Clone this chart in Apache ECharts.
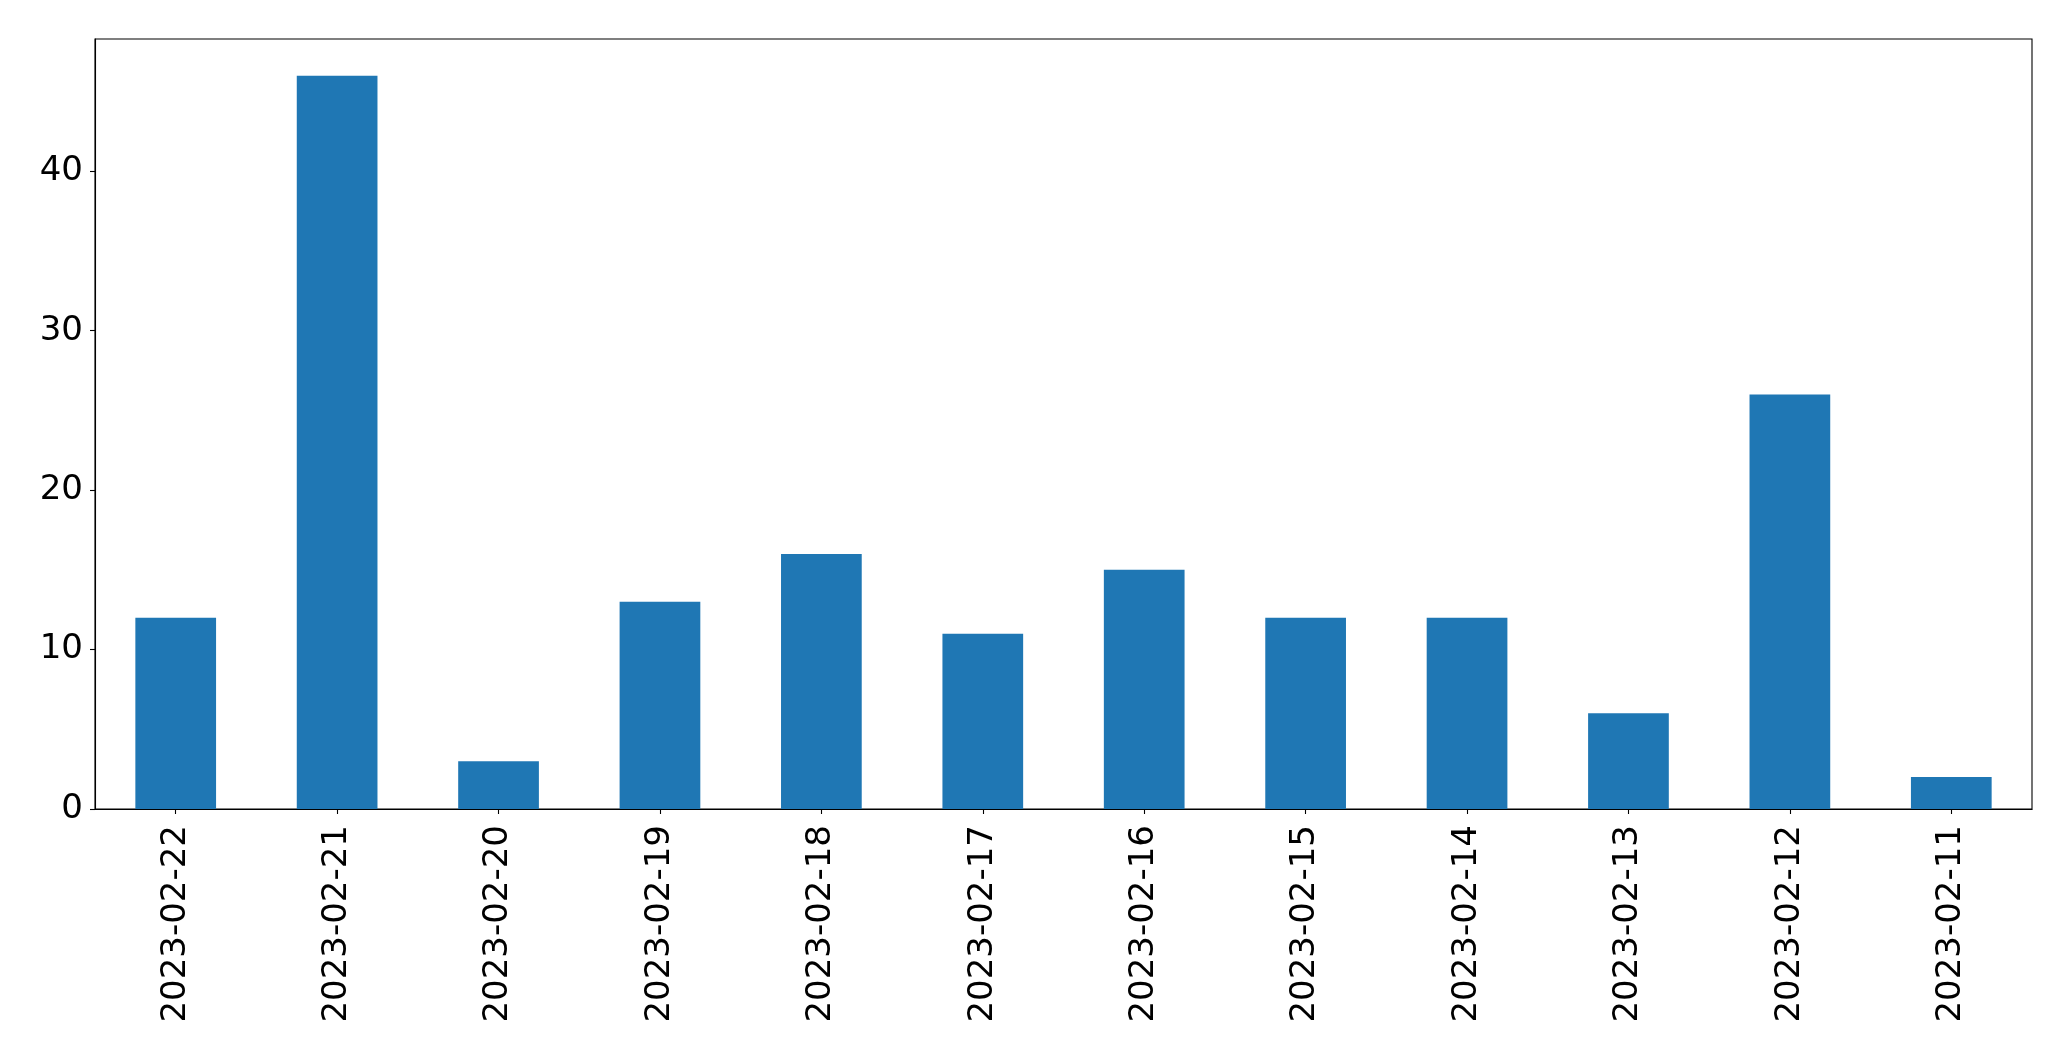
<!DOCTYPE html>
<html>
<head>
<meta charset="utf-8">
<script src="https://cdn.jsdelivr.net/npm/echarts@6/dist/echarts.min.js"></script>
<style>
html,body{margin:0;padding:0;background:#fff;}
#chart{width:2071px;height:1061px;}
</style>
</head>
<body>
<div id="chart"></div>
<script>
const categories = ["2023-02-22","2023-02-21","2023-02-20","2023-02-19","2023-02-18","2023-02-17","2023-02-16","2023-02-15","2023-02-14","2023-02-13","2023-02-12","2023-02-11"];
const counts = [12, 46, 3, 13, 16, 11, 15, 12, 12, 6, 26, 2];
const yTicks = [0, 10, 20, 30, 40];

const chart = echarts.init(document.getElementById('chart'), null, {renderer: 'canvas'});
const font = '"DejaVu Sans", sans-serif';
chart.setOption({
  animation: false,
  backgroundColor: '#ffffff',
  grid: {left: 95, top: 39, right: 39, bottom: 252, show: true, borderColor: '#000', borderWidth: 1.1, backgroundColor: 'transparent'},
  xAxis: {
    type: 'category',
    data: categories,
    boundaryGap: true,
    axisLine: {show: true, lineStyle: {color: '#000', width: 1.1}},
    axisTick: {show: true, alignWithLabel: true, length: 5, lineStyle: {color: '#000', width: 1.1}},
    axisLabel: {rotate: 90, margin: 16, fontSize: 34, color: '#000', fontFamily: font, interval: 0},
    splitLine: {show: false}
  },
  yAxis: {
    type: 'value',
    min: 0,
    max: 48.3,
    interval: 10,
    axisLine: {show: true, lineStyle: {color: '#000', width: 1.1}},
    axisTick: {show: true, length: 5, lineStyle: {color: '#000', width: 1.1}, customValues: yTicks},
    axisLabel: {margin: 12, fontSize: 34, color: '#000', fontFamily: font, customValues: yTicks},
    splitLine: {show: false}
  },
  series: [{
    type: 'bar',
    data: counts,
    barWidth: '50%',
    itemStyle: {color: '#1f77b4'}
  }]
});
</script>
</body>
</html>
